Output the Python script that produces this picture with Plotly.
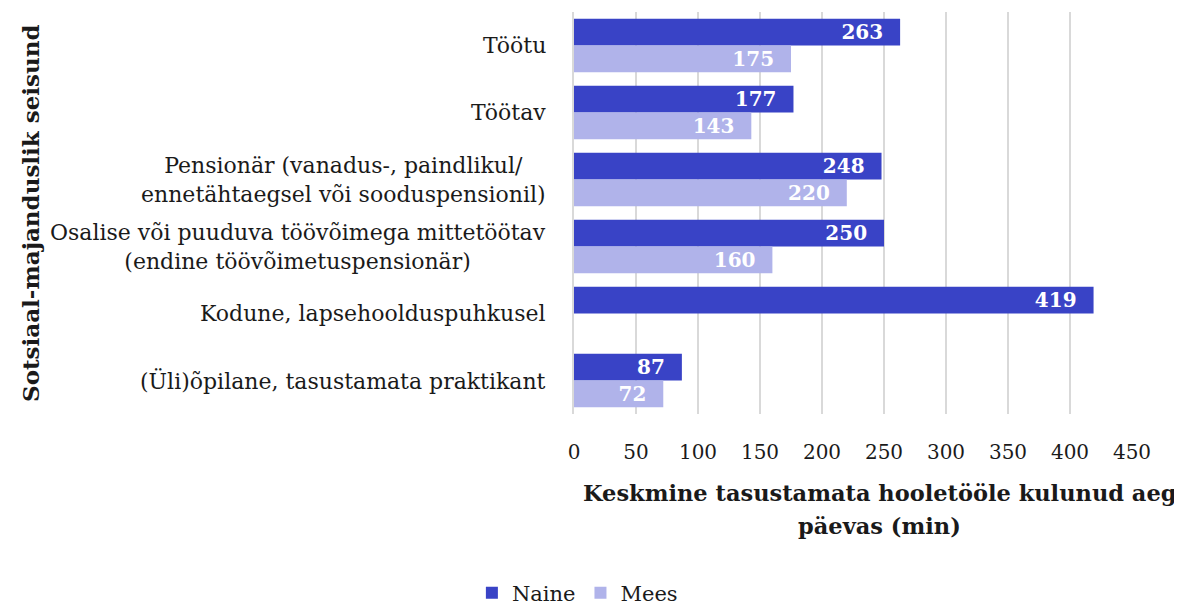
import plotly.graph_objects as go

categories = [
    "Töötu",
    "Töötav",
    "Pensionär (vanadus-, paindlikul/<br>ennetähtaegsel või sooduspensionil)",
    "Osalise või puuduva töövõimega mittetöötav<br>(endine töövõimetuspensionär)",
    "Kodune, lapsehoolduspuhkusel",
    "(Üli)õpilane, tasustamata praktikant",
]
naine = [263, 177, 248, 250, 419, 87]
mees = [175, 143, 220, 160, None, 72]
x_ticks = [0, 50, 100, 150, 200, 250, 300, 350, 400, 450]
x_title_lines = ["Keskmine tasustamata hooletööle kulunud aeg", "päevas (min)"]
y_title = "Sotsiaal-majanduslik seisund"

SERIF = "DejaVu Serif"
C_NAINE = "#3943c6"
C_MEES = "#b0b3ea"
TXT = "#1a1a1a"
PAD = "\u00a0\u00a0"

fig = go.Figure()
fig.add_trace(go.Bar(
    y=categories, x=naine, name="Naine", orientation="h",
    marker=dict(color=C_NAINE, line=dict(width=0)),
    text=[str(v) + PAD for v in naine], textposition="inside", insidetextanchor="end",
    textfont=dict(family=SERIF, size=20, color="white", weight="bold"),
    constraintext="none",
))
fig.add_trace(go.Bar(
    y=categories, x=mees, name="Mees", orientation="h",
    marker=dict(color=C_MEES, line=dict(width=0)),
    text=[str(v) + PAD if v is not None else "" for v in mees], textposition="inside", insidetextanchor="end",
    textfont=dict(family=SERIF, size=20, color="white", weight="bold"),
    constraintext="none",
))

# category labels as annotations (centered multi-line, right-anchored)
for c in categories:
    fig.add_annotation(
        x=-0.047, xref="paper", y=c, yref="y", text=c, showarrow=False,
        xanchor="right", yanchor="middle", align="center",
        font=dict(family=SERIF, size=22, color=TXT),
    )

for line, yy in zip(x_title_lines, [-0.1965, -0.2786]):
    fig.add_annotation(
        x=0.548, xref="paper", y=yy, yref="paper",
        text="<b>" + line + "</b>",
        showarrow=False, xanchor="center", yanchor="middle", align="center",
        font=dict(family=SERIF, size=22.5, color=TXT),
    )
fig.add_annotation(
    x=-0.975, xref="paper", y=0.5, yref="paper",
    text="<b>" + y_title + "</b>", textangle=-90,
    showarrow=False, xanchor="center", yanchor="middle",
    font=dict(family=SERIF, size=23, color=TXT),
)

fig.update_layout(
    width=1174, height=602,
    margin=dict(l=566, r=50, t=4, b=196),
    paper_bgcolor="white", plot_bgcolor="white",
    barmode="group", bargap=0.2, bargroupgap=0,
    font=dict(family=SERIF, size=20, color=TXT),
    legend=dict(orientation="h", x=0.485, xref="container", xanchor="center",
                y=0.028, yref="container", yanchor="middle",
                font=dict(family=SERIF, size=21, color=TXT),
                traceorder="normal", itemwidth=30),
    showlegend=True,
)
fig.update_xaxes(
    range=[0, 450], tickvals=x_ticks, ticktext=[str(t) for t in x_ticks],
    showgrid=True, gridcolor="#d9d9d9", gridwidth=2, zeroline=False,
    tickfont=dict(family=SERIF, size=20, color=TXT), ticklen=0,
    ticklabelstandoff=24, showline=False,
)
fig.update_yaxes(
    autorange="reversed", showticklabels=False, showgrid=False,
    showline=True, linecolor="#d9d9d9", linewidth=2, zeroline=False,
)

fig.write_html("out.html")
